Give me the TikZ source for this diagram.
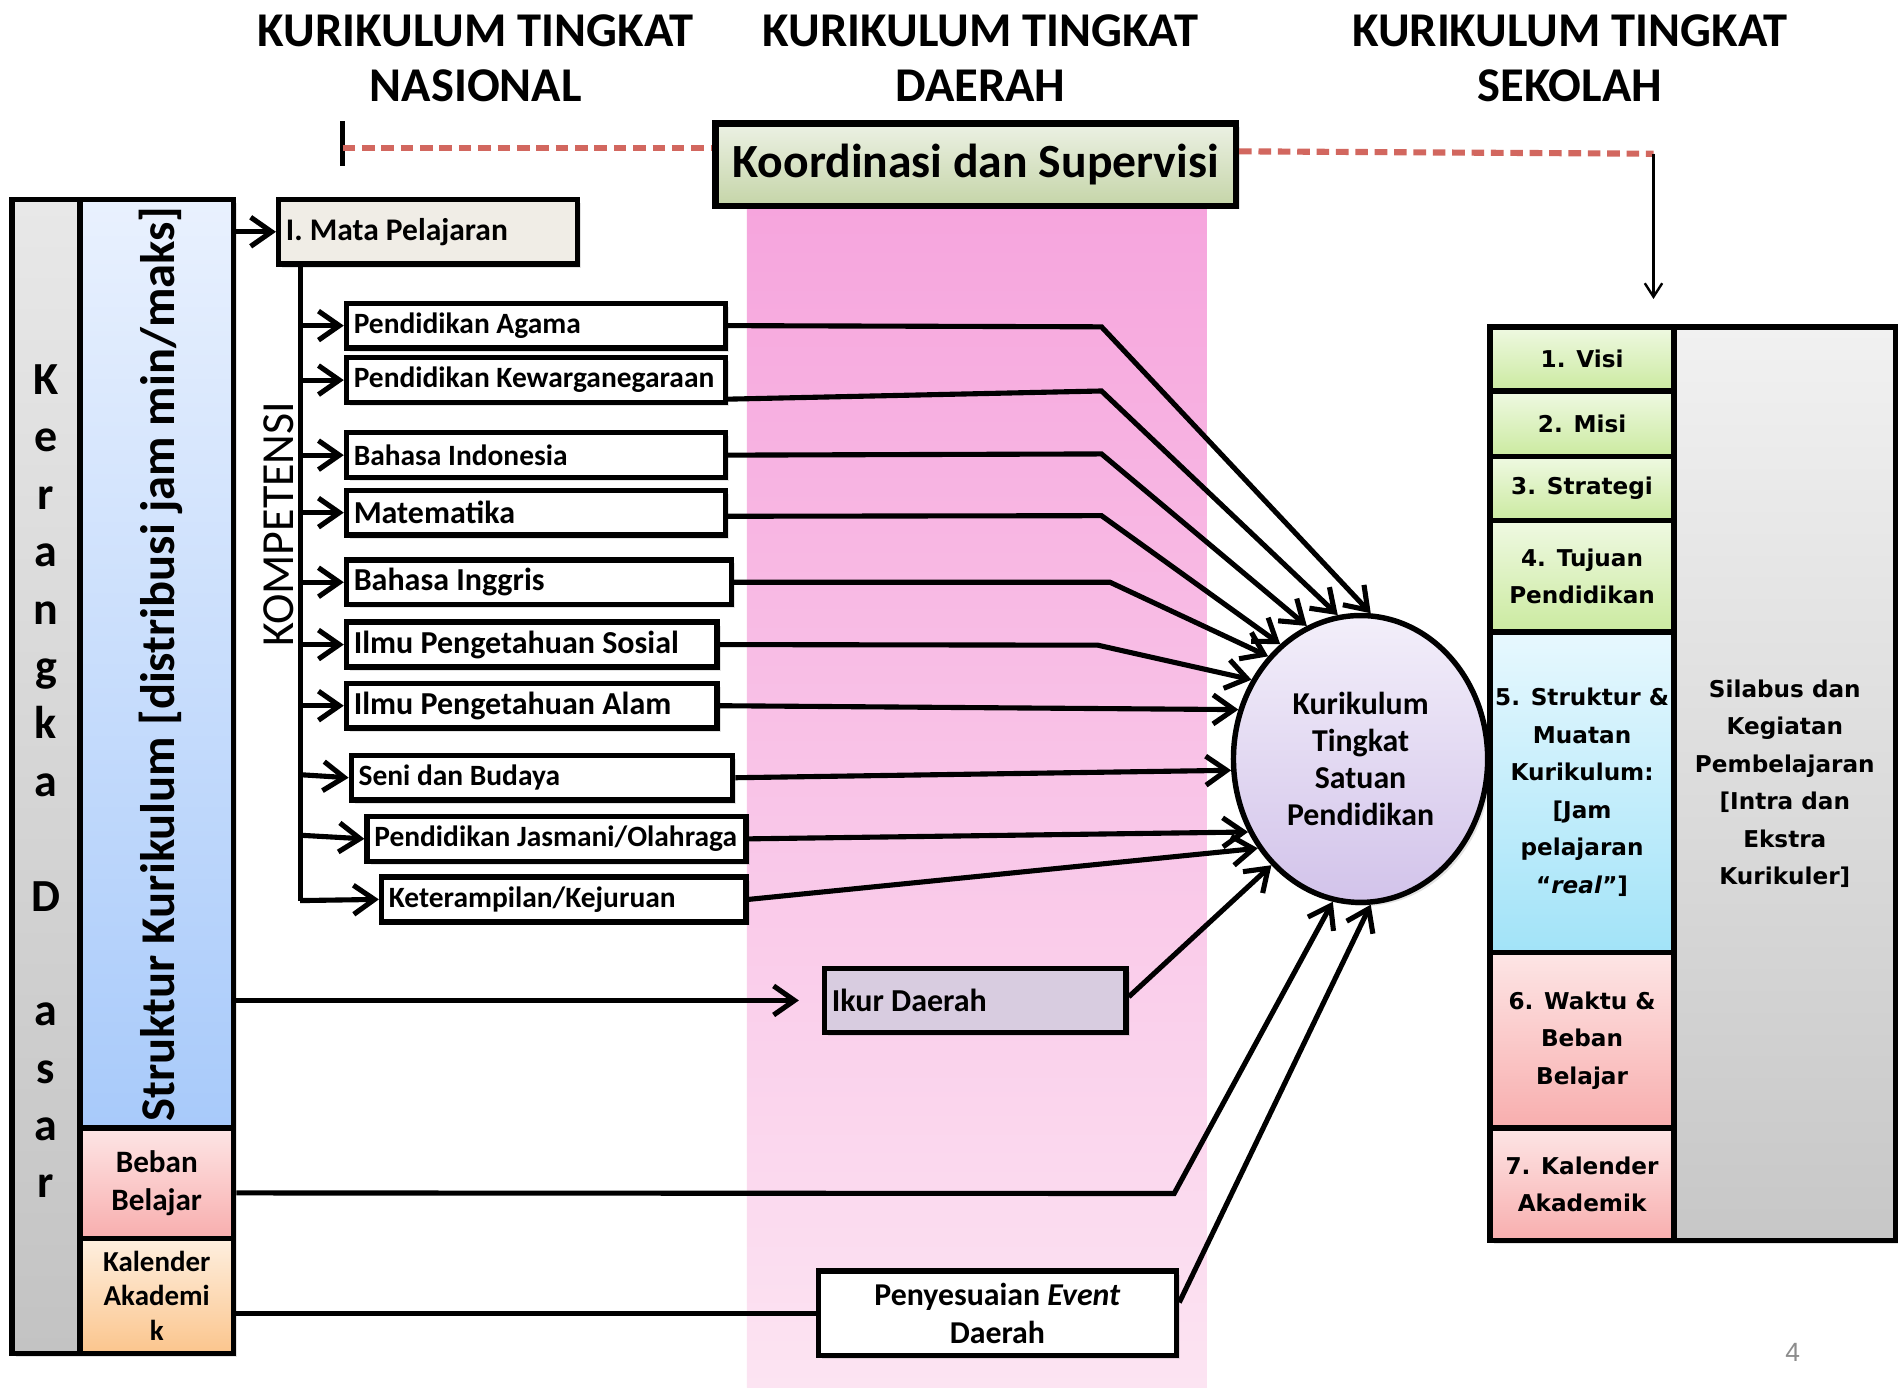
\documentclass[tikz,border=0pt]{standalone}
\usepackage{fontspec}
\setmainfont{Carlito}
\newfontfamily\vfont{DejaVu Sans}
\newfontfamily\pnfont{Liberation Sans}
\usetikzlibrary{arrows.meta,shapes.geometric,shadows}

\newdimen\ux \ux=0.025cm
\newcommand{\fs}[2]{\fontsize{#1}{#2}\selectfont}
\newcommand{\lb}[2]{\makebox[#1\ux][l]{#2}}

\definecolor{kdtop}{HTML}{E8E8E8}
\definecolor{kdbot}{HTML}{C3C3C3}
\definecolor{sktop}{HTML}{E9F1FE}
\definecolor{skbot}{HTML}{A8CAFA}
\definecolor{pktop}{HTML}{FDE5E5}
\definecolor{pkbot}{HTML}{F8AEAE}
\definecolor{ortop}{HTML}{FEEFDF}
\definecolor{orbot}{HTML}{FBC58D}
\definecolor{mpfill}{HTML}{F0EDE6}
\definecolor{kgtop}{HTML}{ECF1E4}
\definecolor{kgbot}{HTML}{C5D5A8}
\definecolor{bandtop}{HTML}{F6A5DD}
\definecolor{bandbot}{HTML}{FCE4F2}
\definecolor{elltop}{HTML}{F3EFFA}
\definecolor{ellbot}{HTML}{D2C3EA}
\definecolor{ikfill}{HTML}{D8CCE0}
\definecolor{grtop}{HTML}{EFF9E2}
\definecolor{grbot}{HTML}{CBEAA0}
\definecolor{cytop}{HTML}{E7F8FE}
\definecolor{cybot}{HTML}{A2E3F8}
\definecolor{sltop}{HTML}{F1F1F1}
\definecolor{slbot}{HTML}{C7C7C7}
\definecolor{dashred}{HTML}{D2675F}
\definecolor{pngray}{HTML}{8C8C8C}

\tikzset{
  box/.style={draw, line width=3.2pt, inner sep=0pt,
    drop shadow={opacity=0.22, shadow xshift=3\ux, shadow yshift=-3\ux}},
  subj/.style={box, fill=white, anchor=west, minimum height=37\ux,
    inner xsep=6\ux, font=\bfseries\fs{17.3}{20}},
  subjL/.style={subj, font=\bfseries\fs{18.8}{22}},
  rbox/.style={box, minimum width=152\ux, align=center,
    font=\vfont\bfseries\fs{13.6}{22}},
  con/.style={line width=3pt},
  arr/.style={con, -{Straight Barb[length=4.3mm,width=6mm]}},
  title/.style={align=center, font=\bfseries\fs{28.5}{32.7}},
  kdl/.style={font=\bfseries\fs{27}{30}},
  reddash/.style={dashred, line width=3.6pt, dash pattern=on 2.6mm off 1.4mm}
}

\begin{document}
\begin{tikzpicture}[x=0.025cm,y=-0.025cm]
    \useasboundingbox[fill=white] (0,0) rectangle (1568,1146);

    % Draw the pink band of the region level
    \fill[top color=bandtop, bottom color=bandbot] (617,170) rectangle (997,1146);

    % Titles of the three levels
    \node[title] (tnas) at (393,48) {KURIKULUM TINGKAT\\NASIONAL};
    \node[title] (tdae) at (810,48) {KURIKULUM TINGKAT\\DAERAH};
    \node[title] (tsek) at (1297,48) {KURIKULUM TINGKAT\\SEKOLAH};

    % Coordination box and the dashed line
    \node[box, line width=3.8pt, minimum width=430\ux, minimum height=68\ux,
      top color=kgtop, bottom color=kgbot, font=\bfseries\fs{28}{32}]
      (koord) at (806,136) {Koordinasi dan Supervisi};
    \draw[line width=2.6pt] (283,100) -- (283,137);
    \coordinate (rtick) at (283,122);
    \coordinate (rcorner) at (1366,127);
    \coordinate (rdown) at (1366,247);
    \draw[reddash] (rtick) -- (koord.west |- rtick);
    \draw[reddash] (koord.east |- 0,125) -- (rcorner);
    \draw[line width=1.4pt, -{Straight Barb[length=2.8mm,width=3.6mm]}] (rcorner) -- (rdown);

    % Left frame: Kerangka Dasar
    \node[box, minimum width=56\ux, minimum height=953\ux,
      top color=kdtop, bottom color=kdbot] (kd) at (38,641.5) {};
    \foreach \ch [count=\i] in {K,e,r,a,n,g,k,a,{},D,{},a,s,a,r}
      \node[kdl, anchor=base] (kd\i) at (38,{326+47.4*(\i-1)}) {\ch};
    \node[box, minimum width=127\ux, minimum height=767\ux,
      top color=sktop, bottom color=skbot] (sk) at (129.5,548.5) {};
    \node[rotate=90, font=\bfseries\fs{28.5}{32}] (sktext) at (133,548.5)
      {Struktur Kurikulum [distribusi jam min/maks]};
    \node[box, minimum width=127\ux, minimum height=91\ux, align=center,
      top color=pktop, bottom color=pkbot, font=\bfseries\fs{18.3}{22}]
      (bb) at (129.5,977.5) {Beban\\Belajar};
    \node[box, minimum width=127\ux, minimum height=95\ux, align=center,
      top color=ortop, bottom color=orbot, font=\bfseries\fs{17}{20}]
      (ka) at (129.5,1070.5) {Kalender\\Akademi\\k};

    % Mata pelajaran and the subjects
    \node[box, anchor=west, fill=mpfill, minimum height=53\ux, inner xsep=6\ux,
      font=\bfseries\fs{18.5}{22}] (mata) at (228,191.5) {\lb{235}{I. Mata Pelajaran}};
    \draw[arr] (sk.east |- mata.west) -- (mata.west);
    \coordinate (ktop) at ([xshift=20\ux]mata.south west);
    \coordinate (kbot) at (248,744);
    \draw[con] (ktop) -- (kbot);
    \node[rotate=90, font=\fs{27}{30}] (komp) at (230,433) {KOMPETENSI};

    \node[subj] (agama) at (284,269) {\lb{301}{Pendidikan Agama}};
    \node[subj] (kwn) at (284,314) {\lb{301}{Pendidikan Kewarganegaraan}};
    \node[subj] (bindo) at (284,376) {\lb{301}{Bahasa Indonesia}};
    \node[subjL] (mat) at (284,423.5) {\lb{301}{Matematika}};
    \node[subjL] (bing) at (284,481) {\lb{306}{Bahasa Inggris}};
    \node[subjL] (ips) at (284,532.5) {\lb{294}{Ilmu Pengetahuan Sosial}};
    \node[subjL] (ipa) at (284,583) {\lb{294}{Ilmu Pengetahuan Alam}};
    \node[subj] (sbd) at (288,642.5) {\lb{303}{Seni dan Budaya}};
    \node[subj] (pjo) at (301,693) {\lb{301}{Pendidikan Jasmani/Olahraga}};
    \node[subj] (ktr) at (313,743) {\lb{289}{Keterampilan/Kejuruan}};

    % Arrows from the trunk to the subjects
    \draw[arr] (ktop |- agama.west) -- (agama.west);
    \draw[arr] (ktop |- kwn.west) -- (kwn.west);
    \draw[arr] (ktop |- bindo.west) -- (bindo.west);
    \draw[arr] (ktop |- mat.west) -- (mat.west);
    \draw[arr] (ktop |- bing.west) -- (bing.west);
    \draw[arr] (ktop |- ips.west) -- (ips.west);
    \draw[arr] (ktop |- ipa.west) -- (ipa.west);
    \draw[arr] (248,640) -- (sbd.west);
    \draw[arr] (248,690) -- (pjo.west);
    \draw[arr] (kbot) -- (ktr.west);

    % Kurikulum Tingkat Satuan Pendidikan
    \node[ellipse, draw, line width=3.2pt, minimum width=210\ux, minimum height=237\ux,
      top color=elltop, bottom color=ellbot, align=center, inner sep=0pt,
      font=\bfseries\fs{18.7}{21.8},
      drop shadow={opacity=0.22, shadow xshift=3\ux, shadow yshift=-3\ux}]
      (tsp) at (1124,627) {Kurikulum\\Tingkat\\Satuan\\Pendidikan};

    % Lines from the subjects to the ellipse
    \draw[arr] (agama.east) -- (910,270) -- (tsp.86);
    \draw[arr] ([yshift=5\ux]kwn.south east) -- (910,323) -- (tsp.99);
    \draw[arr] (bindo.east) -- (910,375) -- (tsp.112);
    \draw[arr] ([yshift=-3\ux]mat.east) -- (910,426) -- (tsp.125);
    \draw[arr] (bing.east) -- (917,481) -- (tsp.132);
    \draw[arr] (ips.east) -- (907,533) -- (tsp.144);
    \draw[arr] (ipa.east) -- (tsp.158);
    \draw[arr] (sbd.east) -- (tsp.185);
    \draw[arr] (pjo.east) -- (tsp.213);
    \draw[arr] (ktr.east) -- (tsp.221);

    % Regional boxes
    \node[box, anchor=west, fill=ikfill, minimum height=53\ux, inner xsep=6\ux,
      font=\bfseries\fs{18.8}{22}] (ikur) at (679,826.5) {\lb{237}{Ikur Daerah}};
    \node[box, fill=white, minimum width=296\ux, minimum height=70\ux, align=center,
      font=\bfseries\fs{18.7}{22}] (pen) at (824,1085) {Penyesuaian \textit{Event}\\Daerah};
    \draw[arr, shorten >=19\ux] (sk.east |- ikur.west) -- (ikur.west);
    \draw[arr] ([yshift=3\ux]ikur.east) -- (tsp.230);
    \draw[arr] ([yshift=-8\ux]bb.east) -- (970,986) -- (tsp.259);
    \draw[con] (ka.east |- pen.west) -- (pen.west);
    \draw[arr] ([yshift=9\ux]pen.east) -- (tsp.274);

    % School level boxes
    \node[rbox, minimum height=53\ux, top color=grtop, bottom color=grbot] (visi) at (1307,296.5) {1. Visi};
    \node[rbox, minimum height=54\ux, top color=grtop, bottom color=grbot] (misi) at (1307,350) {2. Misi};
    \node[rbox, minimum height=53\ux, top color=grtop, bottom color=grbot] (strat) at (1307,403.5) {3. Strategi};
    \node[rbox, minimum height=92\ux, top color=grtop, bottom color=grbot] (tuj) at (1307,476) {4. Tujuan\\Pendidikan};
    \node[rbox, minimum height=265\ux, top color=cytop, bottom color=cybot] (struk) at (1307,654.5)
      {5. Struktur \&\\Muatan\\Kurikulum:\\{}[Jam\\pelajaran\\“\textit{real}”]};
    \node[rbox, minimum height=145\ux, top color=pktop, bottom color=pkbot] (waktu) at (1307,859.5) {6. Waktu \&\\Beban\\Belajar};
    \node[rbox, minimum height=93\ux, top color=pktop, bottom color=pkbot] (kalak) at (1307,978.5) {7. Kalender\\Akademik};
    \node[rbox, minimum width=183\ux, minimum height=755\ux, top color=sltop, bottom color=slbot] (silabus) at (1474.5,647.5)
      {Silabus dan\\Kegiatan\\Pembelajaran\\{}[Intra dan\\Ekstra\\Kurikuler]};

    % Slide number
    \node[font=\pnfont\fs{15.5}{18}, text=pngray] (pnum) at (1481,1117) {4};
\end{tikzpicture}
\end{document}
